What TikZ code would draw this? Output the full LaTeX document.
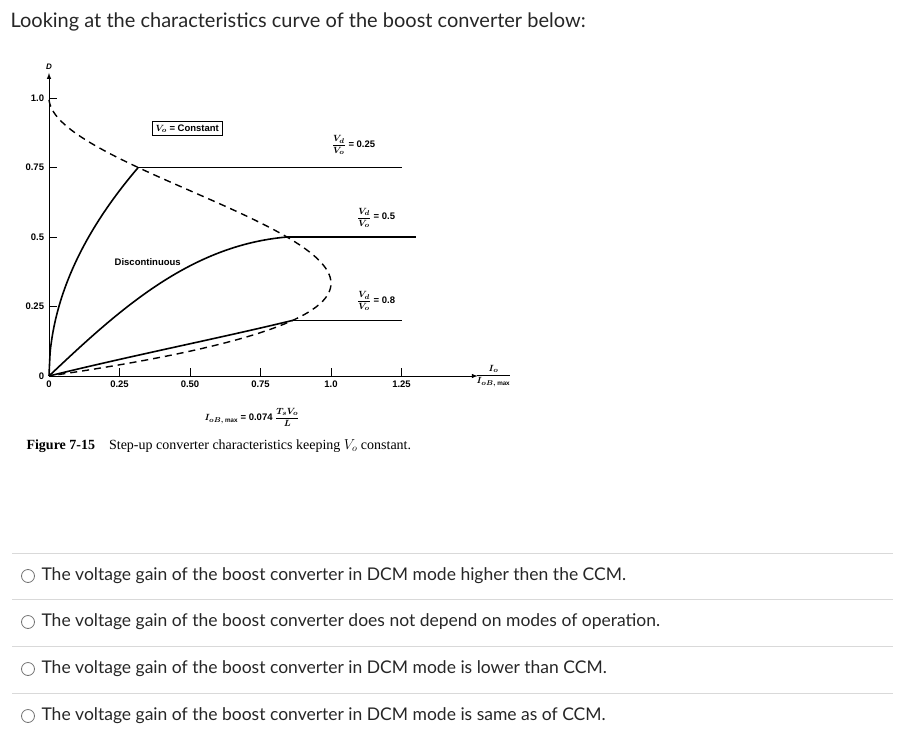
\documentclass[tikz,border=0pt]{standalone}
\usepackage{fontspec}
\setmainfont{Lato}
\newfontfamily\plotf{Liberation Sans}
\newfontfamily\capf{Liberation Serif}
\begin{document}
\begin{tikzpicture}[x=1pt,y=-1pt,
  pl/.style={font=\plotf\bfseries\boldmath\fontsize{9.5}{11}\selectfont},
  qt/.style={font=\fontsize{17.5}{20}\selectfont,anchor=west,text=black!85},
  sep/.style={draw=black!15,line width=0.6pt},
  opt/.style={draw=black!55,line width=0.8pt}]
\useasboundingbox (0,0) rectangle (912,746);
\node[qt,font=\fontsize{20}{24}\selectfont] (title) at (7,22) {Looking at the characteristics curve of the boost converter below:};
% plot
\begin{scope}[shift={(49,376)},x=282pt,y=278pt]
 \coordinate (o) at (0,0);
 \coordinate (ye) at (0,1.09);
 \coordinate (xe) at (1.52,0);
 \draw[-latex,line width=1pt] (o) -- (ye);
 \draw[-latex,line width=1pt] (o) -- (xe);
 \node[pl,font=\plotf\bfseries\itshape\fontsize{8}{9}\selectfont,above] (dl) at (ye) {D};
 \foreach \v/\t in {1/1.0,0.75/0.75,0.5/0.5,0.25/0.25,0/0}
   {\draw[line width=0.8pt] (0,\v) -- (0.03,\v); \node[pl,left] at (-0.005,\v) {\t};}
 \foreach \v/\t in {0.25/0.25,0.5/0.50,0.75/0.75,1.0/1.0,1.25/1.25}
   {\draw[line width=0.8pt] (\v,0) -- (\v,0.03); \node[pl,below] at (\v,-0.005) {\t};}
 \node[pl,below] at (0,-0.005) {0};
 \node[pl,right] (ax) at (1.5,0.0) {$\displaystyle\frac{I_o}{I_{oB,\,\mathrm{max}}}$};
 % boundary
 \draw[line width=1.4pt,dash pattern=on 7pt off 5pt,domain=0.005:1,samples=120,smooth,variable=\d]
   plot ({6.75*\d*(1-\d)^2},{\d});
 % DCM curves
 \draw[line width=1.6pt,domain=0:0.316,samples=80,smooth,variable=\t] plot (\t,{sqrt(1.778*\t)});
 \draw[line width=1.6pt] (0,0) .. controls (0.25,0.24) and (0.5,0.47) .. (0.844,0.5);
 \draw[line width=1.6pt] (0,0) .. controls (0.3,0.075) and (0.6,0.135) .. (0.864,0.2);
 \draw[line width=1.6pt] (0.316,0.75) -- (1.25,0.75);
 \draw[line width=1.6pt] (0.844,0.5) -- (1.3,0.5);
 \draw[line width=1.6pt] (0.864,0.2) -- (1.25,0.2);
 \node[pl,draw,line width=1pt,inner sep=3.5pt] (vc) at (0.49,0.89) {$V_o$ = Constant};
 \node[pl] (l1) at (1.08,0.83) {$\displaystyle\frac{V_d}{V_o}$ = 0.25};
 \node[pl] (l2) at (1.16,0.57) {$\displaystyle\frac{V_d}{V_o}$ = 0.5};
 \node[pl] (l3) at (1.16,0.27) {$\displaystyle\frac{V_d}{V_o}$ = 0.8};
 \node[pl] (dc) at (0.35,0.41) {Discontinuous};
 \node[pl] (fm) at (0.72,-0.15) {$I_{oB,\,\mathrm{max}}$ = 0.074 $\displaystyle\frac{T_sV_o}{L}$};
\end{scope}
\node[anchor=west,font=\capf\fontsize{14}{16}\selectfont] (cap) at (23,446) {\textbf{Figure 7-15}\quad Step-up converter characteristics keeping $V_o$ constant.};
% options
\foreach \y/\t [count=\i] in {576/The voltage gain of the boost converter in DCM mode higher then the CCM.,
  622/The voltage gain of the boost converter does not depend on modes of operation.,
  669/The voltage gain of the boost converter in DCM mode is lower than CCM.,
  716/The voltage gain of the boost converter in DCM mode is same as of CCM.}{
  \draw[sep] (12,\y-23) -- (893,\y-23);
  \node[opt,circle,minimum size=13pt,inner sep=0pt] (c\i) at (28,\y) {};
  \node[qt] (t\i) at (38,\y) {\t};
}
\end{tikzpicture}
\end{document}
